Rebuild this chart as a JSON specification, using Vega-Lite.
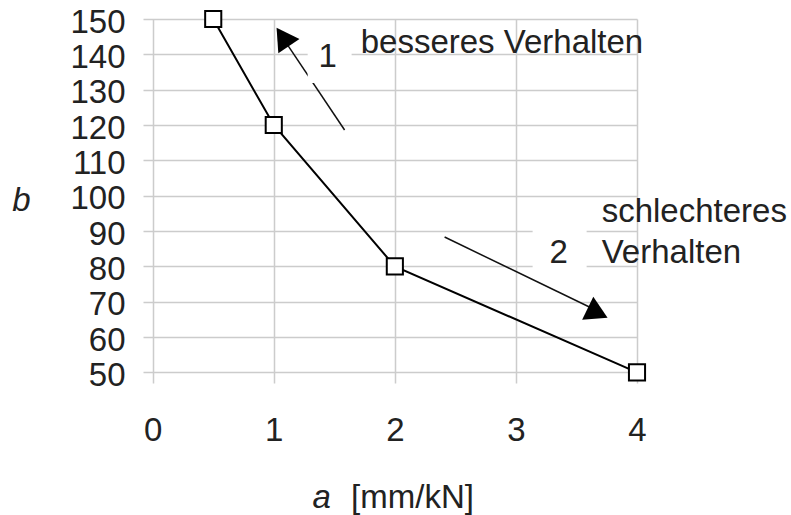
{
  "$schema": "https://vega.github.io/schema/vega-lite/v6.json",
  "width": 494,
  "height": 364,
  "autosize": {"type": "none"},
  "padding": {"left": 143, "top": 19, "right": 154, "bottom": 132},
  "background": "white",
  "config": {"view": {"stroke": null}, "font": "Liberation Sans"},
  "datasets": {
    "series": [{"a": 0.5, "b": 150}, {"a": 1, "b": 120}, {"a": 2, "b": 80}, {"a": 4, "b": 50}],
    "arrows": [
      {"a": 1.585, "b": 118.6, "a2": 1.115, "b2": 142.6},
      {"a": 2.411, "b": 88.3, "a2": 3.658, "b2": 67.65}
    ],
    "head1": [{"a": 1.074, "b": 144.9}],
    "head2": [{"a": 3.675, "b": 66.8}],
    "boxes": [
      {"a": 1.28, "b": 145.5, "a2": 1.643, "b2": 131.9},
      {"a": 3.138, "b": 92.6, "a2": 3.584, "b2": 77.6}
    ],
    "nums": [{"a": 1.445, "b": 139.25, "t": "1"}, {"a": 3.353, "b": 83.8, "t": "2"}],
    "notes": [
      {"a": 1.718, "b": 140.4, "t": "besseres Verhalten"},
      {"a": 3.708, "b": 92.56, "t": "schlechteres"},
      {"a": 3.708, "b": 80.96, "t": "Verhalten"}
    ],
    "xlab": [{"a": 1.396, "b": 14.6, "t": "a"}]
  },
  "encoding": {
    "x": {
      "field": "a", "type": "quantitative",
      "scale": {"domain": [-0.08, 4], "nice": false, "zero": false},
      "axis": {
        "values": [0, 1, 2, 3, 4], "domain": false, "ticks": false, "tickSize": 0,
        "labelPadding": 47, "labelBaseline": "middle", "labelFontSize": 33, "labelColor": "#222",
        "labelFlush": false, "labelOverlap": false,
        "gridColor": "#cccccc", "gridWidth": 1.5,
        "title": "[mm/kN]", "titleFontSize": 33, "titleFontWeight": "normal", "titleColor": "#222",
        "titleX": 269, "titleY": 114, "titleAlign": "center", "titleBaseline": "middle"
      }
    },
    "y": {
      "field": "b", "type": "quantitative",
      "scale": {"domain": [47, 150], "nice": false, "zero": false},
      "axis": {
        "values": [50, 60, 70, 80, 90, 100, 110, 120, 130, 140, 150], "domain": false, "ticks": false, "tickSize": 0,
        "labelPadding": 18, "labelFontSize": 33, "labelColor": "#222", "labelOffset": 3,
        "labelFlush": false, "labelOverlap": false,
        "gridColor": "#cccccc", "gridWidth": 1.5,
        "title": "b", "titleFontSize": 33, "titleFontWeight": "normal", "titleFontStyle": "italic", "titleColor": "#222",
        "titleAngle": 0, "titleX": -122, "titleY": 181, "titleAlign": "center", "titleBaseline": "middle"
      }
    }
  },
  "layer": [
    {
      "data": {"name": "arrows"},
      "mark": {"type": "rule", "color": "#111", "strokeWidth": 1.5},
      "encoding": {"x2": {"field": "a2"}, "y2": {"field": "b2"}}
    },
    {
      "data": {"name": "head1"},
      "mark": {"type": "point", "shape": "triangle-up", "filled": true, "color": "#000", "opacity": 1, "size": 650, "angle": -34}
    },
    {
      "data": {"name": "head2"},
      "mark": {"type": "point", "shape": "triangle-up", "filled": true, "color": "#000", "opacity": 1, "size": 650, "angle": 116}
    },
    {
      "data": {"name": "boxes"},
      "mark": {"type": "rect", "color": "white"},
      "encoding": {"x2": {"field": "a2"}, "y2": {"field": "b2"}}
    },
    {
      "data": {"name": "nums"},
      "mark": {"type": "text", "fontSize": 33, "color": "#222", "align": "center", "baseline": "middle"},
      "encoding": {"text": {"field": "t"}}
    },
    {
      "data": {"name": "notes"},
      "mark": {"type": "text", "fontSize": 33, "color": "#222", "align": "left", "baseline": "alphabetic"},
      "encoding": {"text": {"field": "t"}}
    },
    {
      "data": {"name": "xlab"},
      "mark": {"type": "text", "fontSize": 33, "fontStyle": "italic", "color": "#222", "align": "center", "baseline": "middle"},
      "encoding": {"text": {"field": "t"}}
    },
    {
      "data": {"name": "series"},
      "mark": {"type": "line", "color": "#000", "strokeWidth": 2}
    },
    {
      "data": {"name": "series"},
      "mark": {"type": "point", "shape": "square", "filled": true, "fill": "white", "stroke": "#000", "strokeWidth": 2, "size": 260, "opacity": 1}
    }
  ]
}
